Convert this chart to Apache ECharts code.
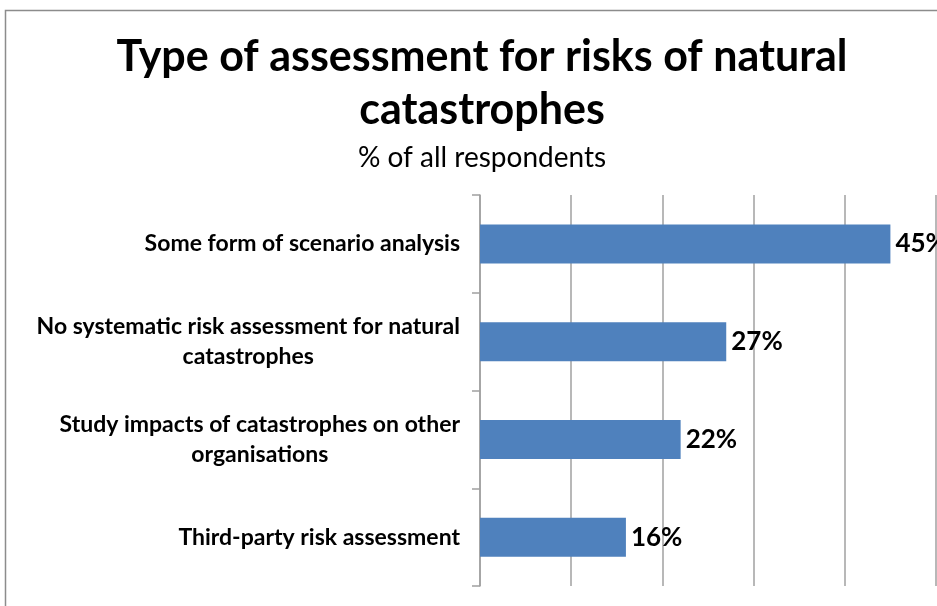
<!DOCTYPE html>
<html>
<head>
<meta charset="utf-8">
<style>
  html, body { margin: 0; padding: 0; background: #ffffff; }
  #chart { width: 937px; height: 606px; }
</style>
<script src="https://cdn.jsdelivr.net/npm/echarts@6/dist/echarts.min.js"></script>
</head>
<body>
<div id="chart"></div>
<script>
// Survey answers, top to bottom
const categories = [
  'Some form of scenario analysis',
  'No systematic risk assessment for natural\ncatastrophes',
  'Study impacts of catastrophes on other\norganisations',
  'Third-party risk assessment'
];
const shares = [45, 27, 22, 16];
const titleText = 'Type of assessment for risks of natural\ncatastrophes';
const subtitleText = '% of all respondents';

const FONT = 'Lato, "Open Sans", sans-serif';
const GRID_GRAY = '#a0a0a0';
const TITLE_CENTER_X = 482;

const chart = echarts.init(document.getElementById('chart'), null, { renderer: 'canvas' });

chart.setOption({
  backgroundColor: '#ffffff',
  animation: false,
  graphic: [
    {
      type: 'rect',
      silent: true,
      shape: { x: 5.5, y: 10.5, width: 1200, height: 1200 },
      style: { fill: 'none', stroke: '#8c8c8c', lineWidth: 1.5 }
    },
    {
      type: 'text',
      silent: true,
      x: TITLE_CENTER_X,
      y: 31,
      style: {
        text: titleText,
        align: 'center',
        verticalAlign: 'top',
        fontFamily: FONT,
        fontWeight: 'bold',
        fontSize: 43,
        lineHeight: 53,
        fill: '#000000'
      }
    },
    {
      type: 'text',
      silent: true,
      x: TITLE_CENTER_X,
      y: 158,
      style: {
        text: subtitleText,
        align: 'center',
        verticalAlign: 'middle',
        fontFamily: FONT,
        fontWeight: 'normal',
        fontSize: 28,
        fill: '#000000'
      }
    }
  ],
  grid: {
    left: 480,
    right: 1,
    top: 195,
    bottom: 20,
    containLabel: false
  },
  xAxis: {
    type: 'value',
    min: 0,
    max: 50,
    interval: 10,
    axisLabel: { show: false },
    axisLine: { show: false },
    axisTick: { show: false },
    splitLine: {
      show: true,
      lineStyle: { color: GRID_GRAY, width: 1.5 }
    }
  },
  yAxis: {
    type: 'category',
    inverse: true,
    data: categories,
    axisLine: {
      show: true,
      lineStyle: { color: GRID_GRAY, width: 1.5 }
    },
    axisTick: {
      show: true,
      length: 8,
      alignWithLabel: false,
      lineStyle: { color: GRID_GRAY, width: 1.5 }
    },
    splitLine: { show: false },
    axisLabel: {
      margin: 20,
      align: 'right',
      formatter: function (value) {
        return value.split('\n').map(function (line) {
          return '{c|' + line + '}';
        }).join('\n');
      },
      rich: {
        c: {
          align: 'center',
          fontFamily: FONT,
          fontWeight: 'bold',
          fontSize: 23,
          lineHeight: 30,
          color: '#000000'
        }
      }
    }
  },
  series: [
    {
      type: 'bar',
      data: shares,
      barWidth: 39,
      itemStyle: { color: '#4f81bd' },
      label: {
        show: true,
        position: 'right',
        distance: 5,
        formatter: '{c}%',
        fontFamily: FONT,
        fontWeight: 'bold',
        fontSize: 26,
        color: '#000000'
      }
    }
  ]
});
</script>
</body>
</html>
